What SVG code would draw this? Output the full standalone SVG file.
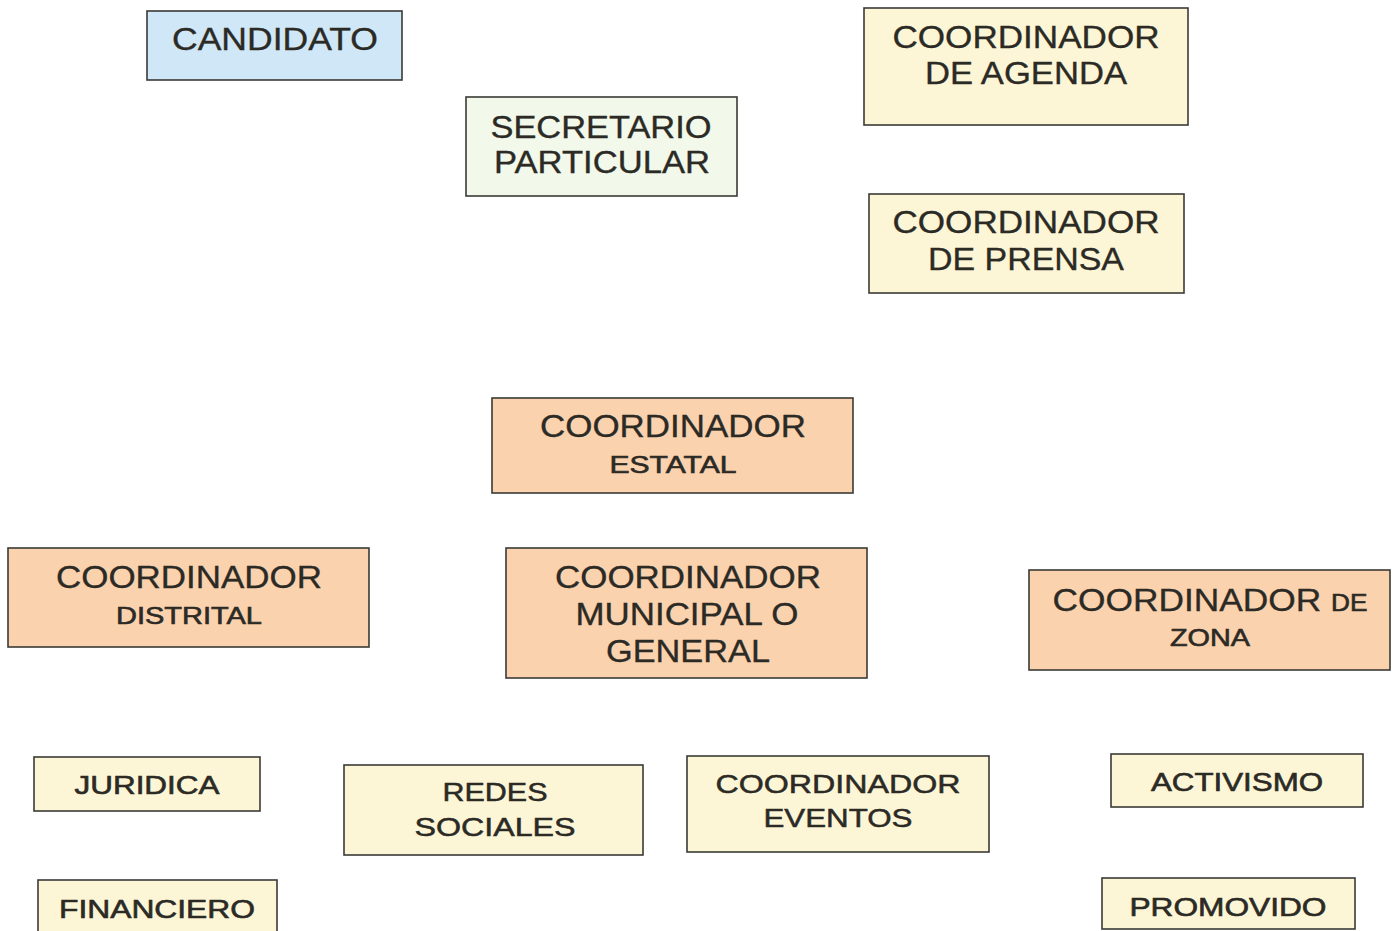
<svg xmlns="http://www.w3.org/2000/svg" width="1393" height="931" viewBox="0 0 1393 931">
<style>
rect{stroke:#3a3a36;stroke-width:1.6}
.b{fill:#cfe7f6}.g{fill:#f2f8ea}.y{fill:#fdf6d6}.o{fill:#fbd2ae}
text{font-family:"Liberation Sans",Arial,sans-serif;font-size:31px;fill:#2b2a25;stroke:#2b2a25;stroke-width:0.35;text-anchor:middle}
.s{font-size:23px;stroke-width:0.6}
.m{font-size:26px;stroke-width:0.5}
</style>
<rect width="1393" height="931" fill="#ffffff" style="stroke:none"/>
<g id="connectors"></g>
<g id="candidato"><rect class="b" x="147" y="11" width="255" height="69"/><text x="275" y="50" textLength="206" lengthAdjust="spacingAndGlyphs">CANDIDATO</text></g>
<g id="secretario"><rect class="g" x="466" y="97" width="271" height="99"/><text x="601" y="138" textLength="221" lengthAdjust="spacingAndGlyphs">SECRETARIO</text><text x="602" y="173" textLength="216" lengthAdjust="spacingAndGlyphs">PARTICULAR</text></g>
<g id="agenda"><rect class="y" x="864" y="8" width="324" height="117"/><text x="1026" y="48" textLength="267" lengthAdjust="spacingAndGlyphs">COORDINADOR</text><text x="1026" y="84" textLength="202" lengthAdjust="spacingAndGlyphs">DE AGENDA</text></g>
<g id="prensa"><rect class="y" x="869" y="194" width="315" height="99"/><text x="1026" y="233" textLength="267" lengthAdjust="spacingAndGlyphs">COORDINADOR</text><text x="1026" y="270" textLength="196" lengthAdjust="spacingAndGlyphs">DE PRENSA</text></g>
<g id="estatal"><rect class="o" x="492" y="398" width="361" height="95"/><text x="673" y="437" textLength="266" lengthAdjust="spacingAndGlyphs">COORDINADOR</text><text class="s" x="673" y="473" textLength="127" lengthAdjust="spacingAndGlyphs">ESTATAL</text></g>
<g id="distrital"><rect class="o" x="8" y="548" width="361" height="99"/><text x="189" y="588" textLength="266" lengthAdjust="spacingAndGlyphs">COORDINADOR</text><text class="s" x="189" y="624" textLength="146" lengthAdjust="spacingAndGlyphs">DISTRITAL</text></g>
<g id="municipal"><rect class="o" x="506" y="548" width="361" height="130"/><text x="688" y="588" textLength="266" lengthAdjust="spacingAndGlyphs">COORDINADOR</text><text x="687" y="625" textLength="223" lengthAdjust="spacingAndGlyphs">MUNICIPAL O</text><text x="688" y="662" textLength="164" lengthAdjust="spacingAndGlyphs">GENERAL</text></g>
<g id="zona"><rect class="o" x="1029" y="570" width="361" height="100"/><text x="1210" y="611" textLength="315" lengthAdjust="spacingAndGlyphs">COORDINADOR <tspan class="s">DE</tspan></text><text class="s" x="1210" y="646" textLength="80" lengthAdjust="spacingAndGlyphs">ZONA</text></g>
<g id="juridica"><rect class="y" x="34" y="757" width="226" height="54"/><text class="s" x="147" y="794" style="font-size:25px" textLength="145" lengthAdjust="spacingAndGlyphs">JURIDICA</text></g>
<g id="redes"><rect class="y" x="344" y="765" width="299" height="90"/><text class="m" x="495" y="801" textLength="105" lengthAdjust="spacingAndGlyphs">REDES</text><text class="m" x="495" y="836" textLength="161" lengthAdjust="spacingAndGlyphs">SOCIALES</text></g>
<g id="eventos"><rect class="y" x="687" y="756" width="302" height="96"/><text class="m" x="838" y="793" textLength="245" lengthAdjust="spacingAndGlyphs">COORDINADOR</text><text class="m" x="838" y="827" textLength="149" lengthAdjust="spacingAndGlyphs">EVENTOS</text></g>
<g id="activismo"><rect class="y" x="1111" y="754" width="252" height="53"/><text class="s" x="1237" y="791" style="font-size:25px" textLength="172" lengthAdjust="spacingAndGlyphs">ACTIVISMO</text></g>
<g id="financiero"><rect class="y" x="38" y="880" width="239" height="56"/><text class="s" x="157" y="918" style="font-size:25px" textLength="196" lengthAdjust="spacingAndGlyphs">FINANCIERO</text></g>
<g id="promovido"><rect class="y" x="1102" y="878" width="253" height="51"/><text class="s" x="1228" y="916" style="font-size:25px" textLength="197" lengthAdjust="spacingAndGlyphs">PROMOVIDO</text></g>
</svg>
